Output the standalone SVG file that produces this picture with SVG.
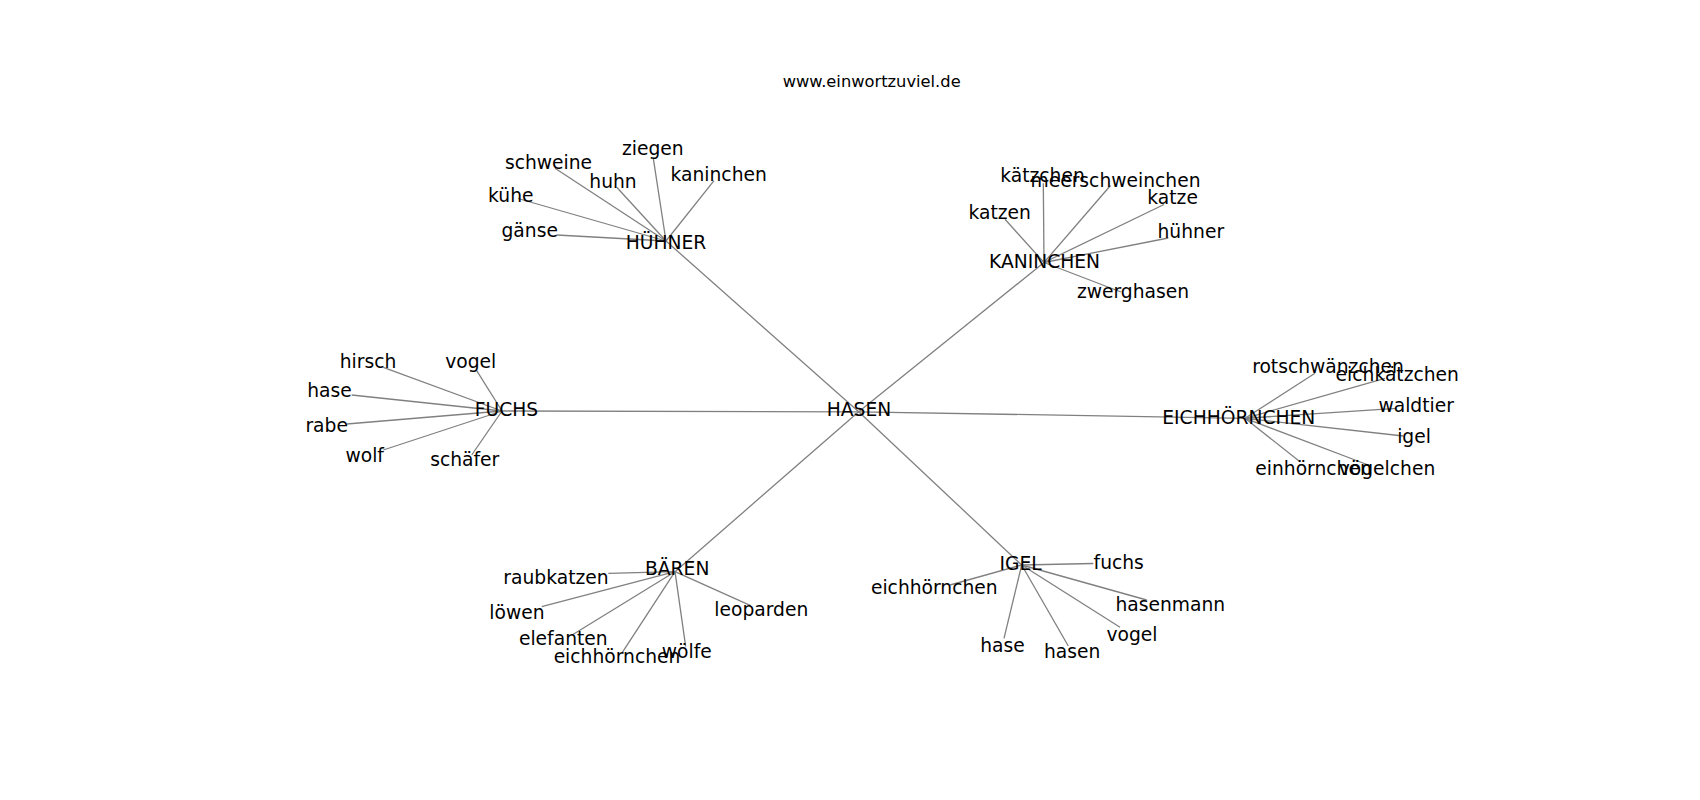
<svg xmlns="http://www.w3.org/2000/svg" width="1700" height="800" viewBox="0 0 1700 800">
<style>
text{font-family:"DejaVu Sans","Liberation Sans",sans-serif;fill:#000;text-anchor:middle}
.lb{font-size:18.7px}
.tt{font-size:16.3px}
#edges line{stroke:#808080;stroke-width:1.3;fill:none}
</style>
<rect width="1700" height="800" fill="#fff"/>
<g id="edges">
<line x1="858.7" y1="411.8" x2="502" y2="411"/>
<line x1="858.7" y1="411.8" x2="666" y2="241"/>
<line x1="858.7" y1="411.8" x2="1044" y2="262.5"/>
<line x1="858.7" y1="411.8" x2="1245" y2="418.3"/>
<line x1="858.7" y1="411.8" x2="1021.7" y2="565"/>
<line x1="858.7" y1="411.8" x2="675" y2="571.7"/>
<line x1="502" y1="411" x2="383.3" y2="367.3"/>
<line x1="502" y1="411" x2="476.7" y2="370.7"/>
<line x1="502" y1="411" x2="351.7" y2="395"/>
<line x1="502" y1="411" x2="346.7" y2="424"/>
<line x1="502" y1="411" x2="383.3" y2="450"/>
<line x1="502" y1="411" x2="471.7" y2="455"/>
<line x1="666" y1="241" x2="556.7" y2="235"/>
<line x1="666" y1="241" x2="518" y2="198.5"/>
<line x1="666" y1="241" x2="555" y2="168.3"/>
<line x1="666" y1="241" x2="616.7" y2="187.3"/>
<line x1="666" y1="241" x2="653.3" y2="158.3"/>
<line x1="666" y1="241" x2="714" y2="180.7"/>
<line x1="1044" y1="262.5" x2="1005" y2="219.3"/>
<line x1="1044" y1="262.5" x2="1043.3" y2="183.3"/>
<line x1="1044" y1="262.5" x2="1110.5" y2="185.5"/>
<line x1="1044" y1="262.5" x2="1164" y2="204.5"/>
<line x1="1044" y1="262.5" x2="1168.3" y2="238"/>
<line x1="1044" y1="262.5" x2="1121" y2="292"/>
<line x1="1245" y1="418.3" x2="1315" y2="373.3"/>
<line x1="1245" y1="418.3" x2="1385" y2="378.3"/>
<line x1="1245" y1="418.3" x2="1396.7" y2="408.3"/>
<line x1="1245" y1="418.3" x2="1403.3" y2="436"/>
<line x1="1245" y1="418.3" x2="1300" y2="461.7"/>
<line x1="1245" y1="418.3" x2="1368.3" y2="465"/>
<line x1="1021.7" y1="565" x2="1093.3" y2="563.5"/>
<line x1="1021.7" y1="565" x2="950" y2="585"/>
<line x1="1021.7" y1="565" x2="1146.7" y2="600"/>
<line x1="1021.7" y1="565" x2="1120" y2="627.3"/>
<line x1="1021.7" y1="565" x2="1068.3" y2="646"/>
<line x1="1021.7" y1="565" x2="1004" y2="638.3"/>
<line x1="675" y1="571.7" x2="608.3" y2="573.3"/>
<line x1="675" y1="571.7" x2="541.7" y2="606.7"/>
<line x1="675" y1="571.7" x2="573.3" y2="634.3"/>
<line x1="675" y1="571.7" x2="621.7" y2="653.3"/>
<line x1="675" y1="571.7" x2="685.7" y2="646.7"/>
<line x1="675" y1="571.7" x2="750.7" y2="605.7"/>
</g>
<text class="tt" x="871.7" y="87.3">www.einwortzuviel.de</text>
<g id="n-hasen"><text class="lb" x="859" y="416">HASEN</text></g>
<g id="n-fuchs"><text class="lb" x="506.5" y="416">FUCHS</text></g>
<g id="n-huehner"><text class="lb" x="666" y="249">HÜHNER</text></g>
<g id="n-kaninchen"><text class="lb" x="1044.5" y="268.3">KANINCHEN</text></g>
<g id="n-eichhoernchen"><text class="lb" x="1238.8" y="424.3">EICHHÖRNCHEN</text></g>
<g id="n-igel"><text class="lb" x="1020.5" y="570">IGEL</text></g>
<g id="n-baeren"><text class="lb" x="677.2" y="575">BÄREN</text></g>
<g id="n-fuchs-hirsch"><text class="lb" x="368" y="367.7">hirsch</text></g>
<g id="n-fuchs-vogel"><text class="lb" x="470.8" y="367.7">vogel</text></g>
<g id="n-fuchs-hase"><text class="lb" x="329.5" y="397.3">hase</text></g>
<g id="n-fuchs-rabe"><text class="lb" x="326.7" y="431.7">rabe</text></g>
<g id="n-fuchs-wolf"><text class="lb" x="364.7" y="461.7">wolf</text></g>
<g id="n-fuchs-schaefer"><text class="lb" x="464.7" y="466">schäfer</text></g>
<g id="n-huehner-gaense"><text class="lb" x="529.7" y="237.3">gänse</text></g>
<g id="n-huehner-kuehe"><text class="lb" x="510.8" y="201.7">kühe</text></g>
<g id="n-huehner-schweine"><text class="lb" x="548.5" y="169">schweine</text></g>
<g id="n-huehner-huhn"><text class="lb" x="613" y="188.3">huhn</text></g>
<g id="n-huehner-ziegen"><text class="lb" x="652.8" y="155">ziegen</text></g>
<g id="n-huehner-kaninchen"><text class="lb" x="718.7" y="180.7">kaninchen</text></g>
<g id="n-kan-katzen"><text class="lb" x="999.7" y="219.3">katzen</text></g>
<g id="n-kan-kaetzchen"><text class="lb" x="1042.5" y="182.3">kätzchen</text></g>
<g id="n-kan-meerschweinchen"><text class="lb" x="1115.5" y="186.7">meerschweinchen</text></g>
<g id="n-kan-katze"><text class="lb" x="1172.6" y="204.2">katze</text></g>
<g id="n-kan-huehner"><text class="lb" x="1190.8" y="238.3">hühner</text></g>
<g id="n-kan-zwerghasen"><text class="lb" x="1133" y="298">zwerghasen</text></g>
<g id="n-eich-rotschwaenzchen"><text class="lb" x="1328" y="373.3">rotschwänzchen</text></g>
<g id="n-eich-eichkaetzchen"><text class="lb" x="1397.3" y="380.7">eichkätzchen</text></g>
<g id="n-eich-waldtier"><text class="lb" x="1416.2" y="411.7">waldtier</text></g>
<g id="n-eich-igel"><text class="lb" x="1414" y="443">igel</text></g>
<g id="n-eich-einhoernchen"><text class="lb" x="1313.5" y="475">einhörnchen</text></g>
<g id="n-eich-voegelchen"><text class="lb" x="1387" y="475">vögelchen</text></g>
<g id="n-igel-fuchs"><text class="lb" x="1118.7" y="569">fuchs</text></g>
<g id="n-igel-eichhoernchen"><text class="lb" x="934.3" y="594.3">eichhörnchen</text></g>
<g id="n-igel-hasenmann"><text class="lb" x="1170.3" y="611">hasenmann</text></g>
<g id="n-igel-vogel"><text class="lb" x="1132" y="640.7">vogel</text></g>
<g id="n-igel-hasen"><text class="lb" x="1072.2" y="658.3">hasen</text></g>
<g id="n-igel-hase"><text class="lb" x="1002.5" y="651.7">hase</text></g>
<g id="n-baeren-raubkatzen"><text class="lb" x="556" y="584">raubkatzen</text></g>
<g id="n-baeren-loewen"><text class="lb" x="517" y="619">löwen</text></g>
<g id="n-baeren-elefanten"><text class="lb" x="563.3" y="645">elefanten</text></g>
<g id="n-baeren-eichhoernchen"><text class="lb" x="617" y="663.3">eichhörnchen</text></g>
<g id="n-baeren-woelfe"><text class="lb" x="686.8" y="658.3">wölfe</text></g>
<g id="n-baeren-leoparden"><text class="lb" x="761.3" y="616">leoparden</text></g>
</svg>
